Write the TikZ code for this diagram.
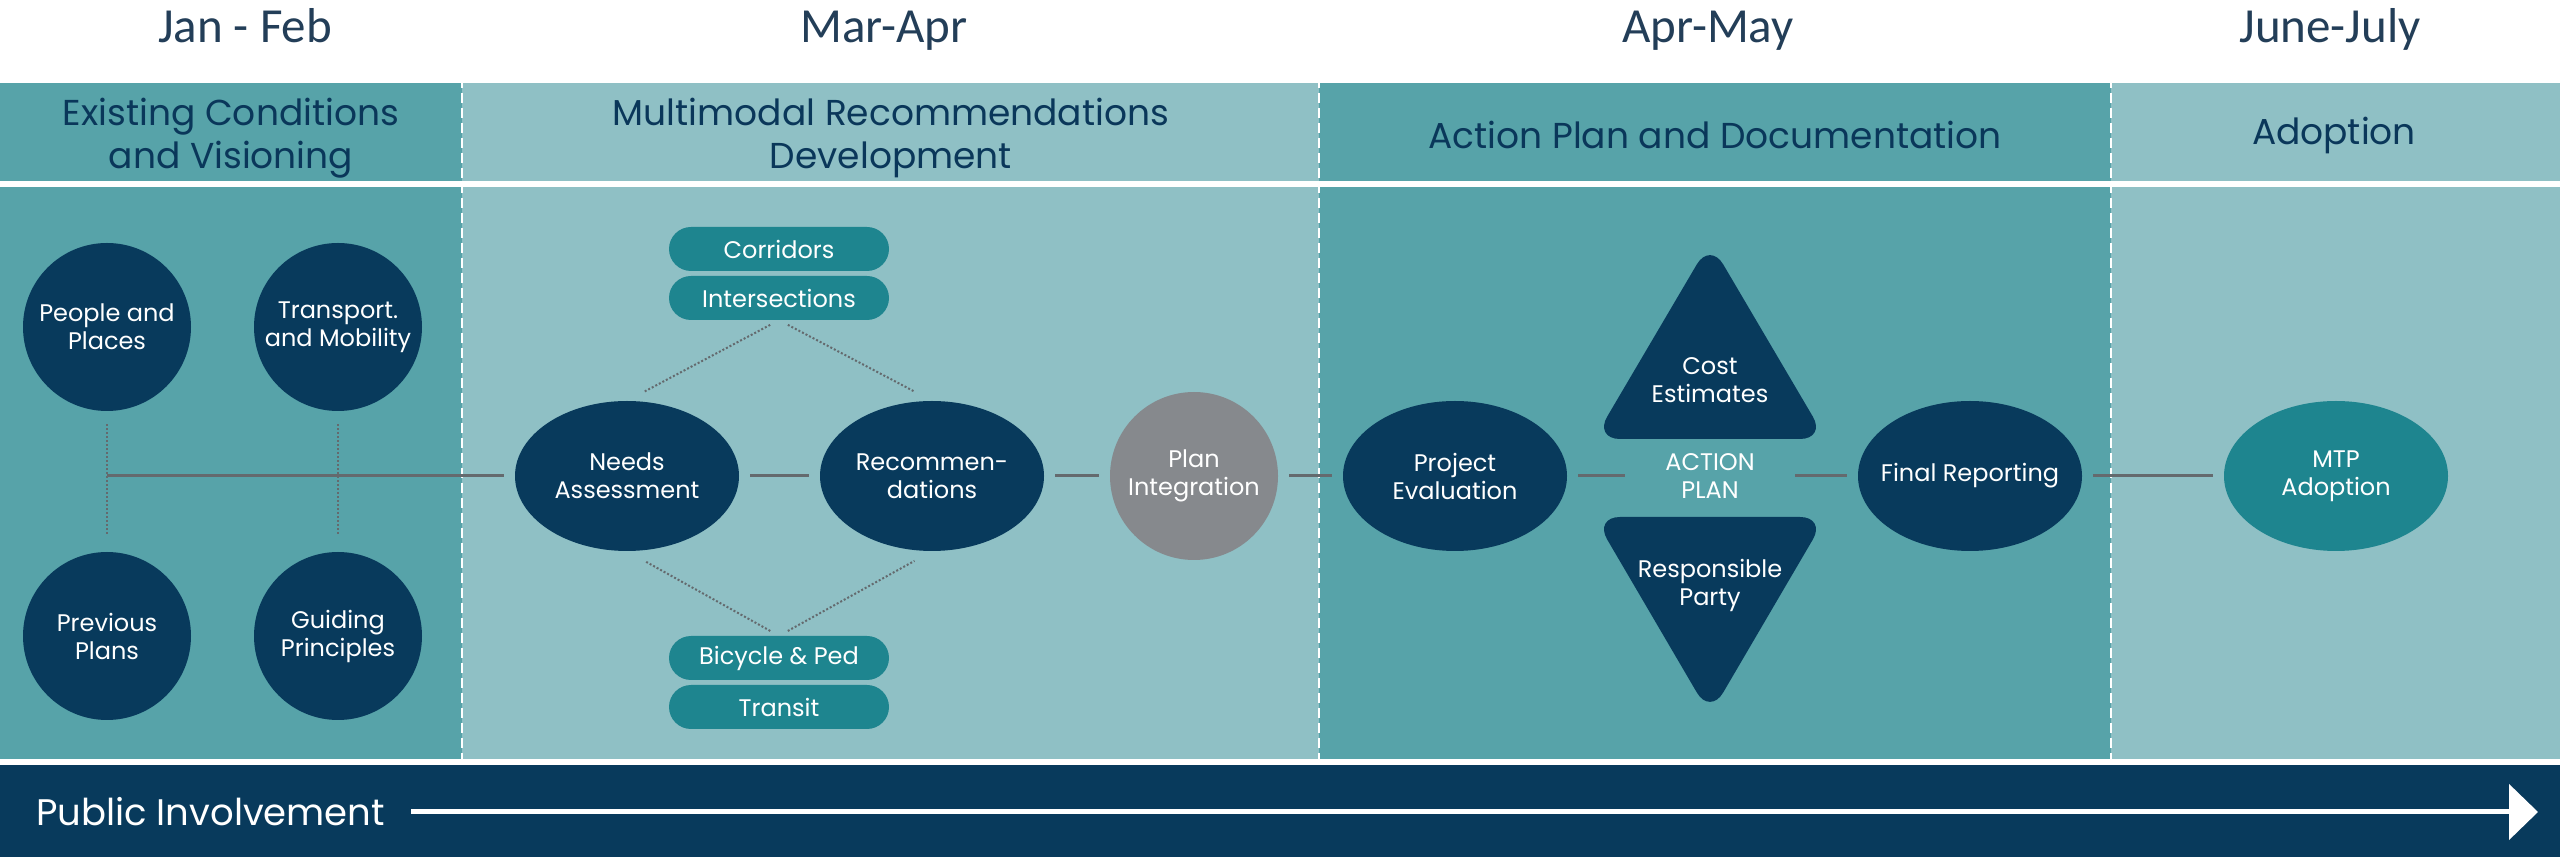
\documentclass[tikz,border=0pt]{standalone}
\usepackage{fontspec}
\setmainfont{Poppins}
\newfontfamily\monthfont{Carlito}
\usetikzlibrary{shapes.geometric,arrows.meta}

\begin{document}
\begin{tikzpicture}[x=1pt,y=1pt,
  month/.style={text=monthColor,font=\monthfont\fontsize{49}{52}\selectfont,anchor=base,inner sep=0pt,outer sep=0pt},
  title/.style={text=titleColor,font=\fontsize{36}{43}\selectfont,align=center,inner sep=0pt,outer sep=0pt},
  bubble/.style={circle,fill=#1,text=white,minimum size=168pt,inner sep=0pt,align=center,font=\fontsize{24}{28}\selectfont},
  oval/.style={ellipse,fill=#1,text=white,minimum width=224pt,minimum height=150pt,inner sep=-15pt,align=center,font=\fontsize{24}{28}\selectfont},
  pill/.style={rectangle,rounded corners=22pt,fill=pillColor,text=white,minimum width=220pt,minimum height=44pt,inner sep=0pt,font=\fontsize{24}{28}\selectfont},
  tri/.style={fill=navyColor,rounded corners=26pt},
  label/.style={text=white,align=center,inner sep=0pt,font=\fontsize{24}{28}\selectfont},
  link/.style={draw=linkColor,line width=3pt,shorten <=11pt,shorten >=11pt},
  dots/.style={draw=linkColor,line width=2pt,dotted},
  divider/.style={draw=white,line width=2pt,dash pattern=on 10pt off 5pt}]
\definecolor{darkBand}{RGB}{87,163,169}
\definecolor{lightBand}{RGB}{143,192,197}
\definecolor{navyColor}{RGB}{8,58,92}
\definecolor{pillColor}{RGB}{30,133,143}
\definecolor{grayColor}{RGB}{134,137,141}
\definecolor{linkColor}{RGB}{100,106,110}
\definecolor{monthColor}{RGB}{35,62,88}
\definecolor{titleColor}{RGB}{10,55,90}

\path[use as bounding box,fill=white] (0,0) rectangle (2560,857);

\foreach \a/\b/\c in {0/462/darkBand,462/1319/lightBand,1319/2111/darkBand,2111/2560/lightBand}{
  \path[fill=\c] (\a,676) rectangle (\b,774);
  \path[fill=\c] (\a,98) rectangle (\b,670);
}

\path[fill=navyColor] (0,0) rectangle (2560,92);

\foreach \x in {462,1319,2111}
  \draw[divider] (\x,779) -- (\x,92);

\node[month] (m1) at ( 245,814) {Jan - Feb};

\node[month] (m2) at ( 884,814) {Mar-Apr};

\node[month] (m3) at (1708,814) {Apr-May};

\node[month] (m4) at (2330,814) {June-July};

\node[title] (t1) at ( 231,719) {Existing Conditions\\and Visioning};

\node[title] (t2) at ( 891,719) {Multimodal Recommendations\\Development};

\node[title] (t3) at (1715,722) {Action Plan and Documentation};

\node[title] (t4) at (2334,722) {Adoption};

\node[bubble=navyColor] (people) at ( 107,530) {People and\\Places};

\node[bubble=navyColor] (transp) at ( 338,530) {Transport.\\and Mobility};

\node[bubble=navyColor] (prev) at ( 107,221) {Previous\\Plans};

\node[bubble=navyColor] (guide) at ( 338,221) {Guiding\\Principles};

\coordinate (hub) at ( 107,381);

\node[oval=navyColor] (needs) at ( 627,381) {Needs\\Assessment};

\node[oval=navyColor] (rec) at ( 932,381) {Recommen-\\dations};

\node[bubble=grayColor] (plan) at (1194,381) {Plan\\Integration};

\node[oval=navyColor] (proj) at (1455,381) {Project\\Evaluation};

\node[label,minimum width=148pt] (action) at (1710,381) {ACTION\\PLAN};

\node[oval=navyColor] (final) at (1970,381) {Final Reporting};

\node[oval=pillColor] (mtp) at (2336,381) {MTP\\Adoption};

\node[pill] (corr) at ( 779,608) {Corridors};

\node[pill] (inter) at ( 779,559) {Intersections};

\node[pill] (bike) at ( 779,199) {Bicycle \& Ped};

\node[pill] (transit) at ( 779,150) {Transit};

\path[tri] (1710,615) -- (1594,418) -- (1826,418) -- cycle;

\node[label] (cost) at (1710,477) {Cost\\Estimates};

\path[tri] (1594,340) -- (1826,340) -- (1710,142) -- cycle;

\node[label] (resp) at (1710,272) {Responsible\\Party};

\draw[dots,shorten <=13pt,shorten >=17pt] (people) -- (prev);

\draw[dots,shorten <=13pt,shorten >=17pt] (transp) -- (guide);

\draw[dots,shorten <=10pt,shorten >=20pt] (inter.south) -- (needs.north);

\draw[dots,shorten <=10pt,shorten >=20pt] (inter.south) -- (rec.north);

\draw[dots,shorten <=10pt,shorten >=20pt] (bike.north) -- (needs.south);

\draw[dots,shorten <=10pt,shorten >=20pt] (bike.north) -- (rec.south);

\draw[link,shorten <=0pt] (hub) -- (needs);

\draw[link] (needs) -- (rec);

\draw[link] (rec) -- (plan);

\draw[link] (plan) -- (proj);

\draw[link] (proj) -- (action);

\draw[link] (action) -- (final);

\draw[link] (final) -- (mtp);

\node[text=white,anchor=west,inner sep=0pt,font=\fontsize{37}{40}\selectfont] (pub) at (36,45) {Public Involvement};

\coordinate (pubend) at (2538,45);

\draw[white,line width=5pt,shorten <=26pt,-{Triangle[length=29pt,width=55pt]}] (pub) -- (pubend);
\end{tikzpicture}
\end{document}
